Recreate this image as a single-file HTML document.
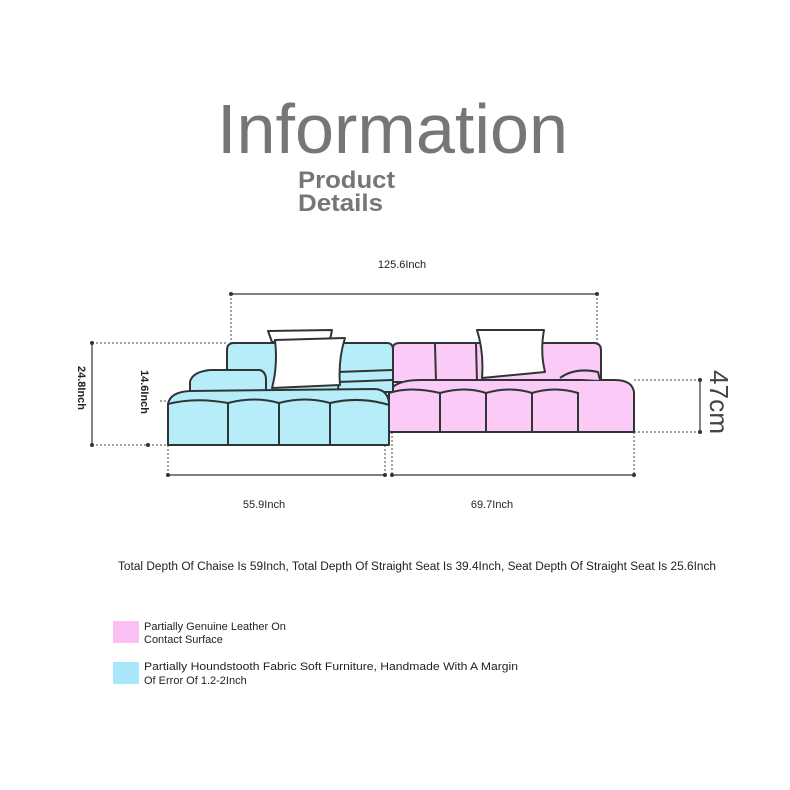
<!DOCTYPE html>
<html><head><meta charset="utf-8"><style>
html,body{margin:0;padding:0;background:#fff;}
svg{display:block;}
text{font-family:"Liberation Sans",sans-serif;}
</style></head><body>
<svg width="790" height="790" viewBox="0 0 790 790" xmlns="http://www.w3.org/2000/svg">
<rect width="790" height="790" fill="#fff"/>
<text x="217" y="153" font-size="70" fill="#767676" textLength="351" lengthAdjust="spacingAndGlyphs">Information</text>
<text x="298" y="188" font-size="24" font-weight="bold" fill="#767676" textLength="97" lengthAdjust="spacingAndGlyphs">Product</text>
<text x="298" y="211" font-size="24" font-weight="bold" fill="#767676" textLength="85" lengthAdjust="spacingAndGlyphs">Details</text>

<!-- top dimension -->
<text x="402" y="268" font-size="11" fill="#222" text-anchor="middle">125.6Inch</text>
<line x1="231" y1="294" x2="597" y2="294" stroke="#333" stroke-width="1.2"/>
<circle cx="231" cy="294" r="2" fill="#333"/><circle cx="597" cy="294" r="2" fill="#333"/>
<g stroke="#444" stroke-width="1" stroke-dasharray="2,2" fill="none">
<line x1="231" y1="294" x2="231" y2="345"/><line x1="597" y1="294" x2="597" y2="345"/>
<line x1="92" y1="343" x2="228" y2="343"/><line x1="92" y1="445" x2="168" y2="445"/>
<line x1="148" y1="445" x2="168" y2="445"/>
<line x1="160" y1="401" x2="172" y2="401"/>
<line x1="634" y1="380" x2="700" y2="380"/><line x1="634" y1="432" x2="700" y2="432"/>
<line x1="168" y1="445" x2="168" y2="475"/><line x1="385" y1="445" x2="385" y2="475"/>
<line x1="392" y1="432" x2="392" y2="475"/><line x1="634" y1="432" x2="634" y2="475"/>
</g>
<line x1="92" y1="343" x2="92" y2="445" stroke="#333" stroke-width="1.2"/>
<circle cx="92" cy="343" r="2" fill="#333"/><circle cx="92" cy="445" r="2" fill="#333"/><circle cx="148" cy="445" r="2" fill="#333"/>
<line x1="700" y1="380" x2="700" y2="432" stroke="#333" stroke-width="1.2"/>
<circle cx="700" cy="380" r="2" fill="#333"/><circle cx="700" cy="432" r="2" fill="#333"/>
<line x1="168" y1="475" x2="385" y2="475" stroke="#333" stroke-width="1.2"/>
<line x1="392" y1="475" x2="634" y2="475" stroke="#333" stroke-width="1.2"/>
<circle cx="168" cy="475" r="2" fill="#333"/><circle cx="385" cy="475" r="2" fill="#333"/>
<circle cx="392" cy="475" r="2" fill="#333"/><circle cx="634" cy="475" r="2" fill="#333"/>
<text transform="translate(78,366) rotate(90)" font-size="11" font-weight="bold" fill="#222">24.8Inch</text>
<text transform="translate(141,370) rotate(90)" font-size="11" font-weight="bold" fill="#222">14.6Inch</text>
<text transform="translate(710,370) rotate(90)" font-size="26" fill="#444" textLength="64" lengthAdjust="spacingAndGlyphs">47cm</text>
<text x="264" y="508" font-size="11" fill="#222" text-anchor="middle">55.9Inch</text>
<text x="492" y="508" font-size="11" fill="#222" text-anchor="middle">69.7Inch</text>

<!-- sofa -->
<g stroke="#2f3535" stroke-width="2" stroke-linejoin="round">
<!-- pink back -->
<path d="M393 348 Q393 343 400 343 L595 343 Q601 344 601 350 L601 382 L393 382 Z" fill="#fccaf6"/>
<path d="M435 344 L436 382 M476 344 L477 382" fill="none"/>
<!-- pink front -->
<path d="M389 392 Q395 380 420 380 L615 380 Q632 380 634 392 L634 432 L389 432 Z" fill="#fccaf6"/>
<path d="M440 392 L440 432 M486 392 L486 432 M532 392 L532 432 M578 392 L578 432" fill="none"/>
<path d="M389 393 Q410 386 440 393 Q465 386 486 393 Q510 386 532 393 Q555 386 578 393" fill="none"/>
<path d="M560 378 Q575 367 598 372 L600 380" fill="#fccaf6"/>
<!-- blue back -->
<path d="M227 350 Q227 343 234 343 L387 343 Q393 343 393 350 L393 392 L227 392 Z" fill="#b6edf8"/>
<path d="M340 344 L338 392 M338 372 L393 370 M338 382 L393 380" fill="none"/>
<!-- blue middle -->
<path d="M190 382 Q192 372 210 370 L260 370 Q266 372 266 380 L266 392 L190 395 Z" fill="#b6edf8"/>
<!-- blue front -->
<path d="M168 404 Q170 392 190 391 L375 389 Q389 390 389 405 L389 445 L168 445 Z" fill="#b6edf8"/>
<path d="M228 403 L228 445 M279 403 L279 445 M330 403 L330 445" fill="none"/>
<path d="M168 404 Q195 397 228 403 Q255 396 279 403 Q305 396 330 403 Q360 396 389 405" fill="none"/>
<!-- pillows -->
<path d="M268 331 L332 330 L330 340 L272 342 Z" fill="#fff"/>
<path d="M275 340 L345 338 Q338 360 340 385 L272 388 Q278 365 275 340 Z" fill="#fff"/>
<path d="M477 330 L544 330 Q540 352 545 372 L482 378 Q484 352 477 330 Z" fill="#fff"/>
</g>

<text x="417" y="570" font-size="11.5" fill="#222" text-anchor="middle" textLength="598" lengthAdjust="spacingAndGlyphs">Total Depth Of Chaise Is 59Inch, Total Depth Of Straight Seat Is 39.4Inch, Seat Depth Of Straight Seat Is 25.6Inch</text>

<rect x="113" y="621" width="26" height="22" fill="#fcc0f4"/>
<text x="144" y="630" font-size="11" fill="#222">Partially Genuine Leather On</text>
<text x="144" y="643" font-size="11" fill="#222">Contact Surface</text>
<rect x="113" y="662" width="26" height="22" fill="#a8e6fa"/>
<text x="144" y="670" font-size="11" fill="#222" textLength="374" lengthAdjust="spacingAndGlyphs">Partially Houndstooth Fabric Soft Furniture, Handmade With A Margin</text>
<text x="144" y="684" font-size="11" fill="#222">Of Error Of 1.2-2Inch</text>
</svg>
</body></html>
